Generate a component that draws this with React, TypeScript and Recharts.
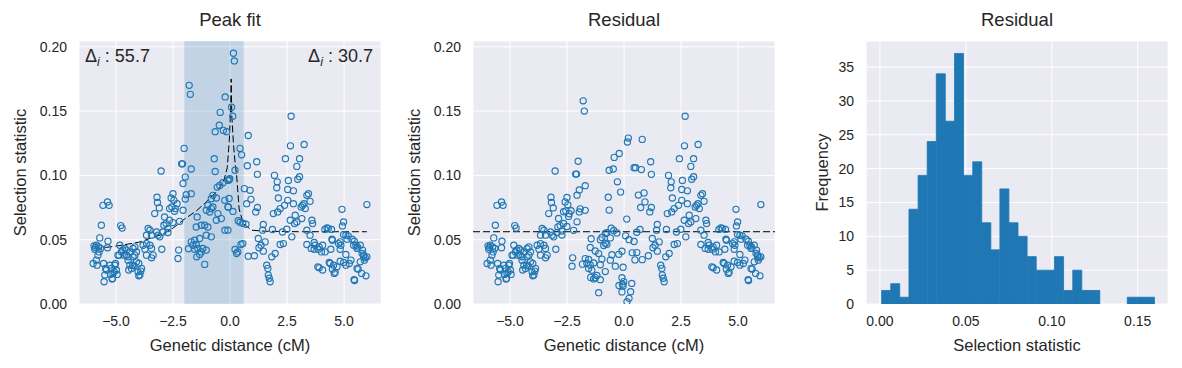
import { Bar, BarChart, CartesianGrid, ReferenceArea, ReferenceLine, Scatter, ScatterChart, XAxis, YAxis } from "recharts";

// points where the peak-fit and residual panels show the same value
const farDistance = [
  -6.0, -5.96, -5.93, -5.9, -5.86, -5.86, -5.83, -5.79, -5.76, -5.74,
  -5.71, -5.67, -5.64, -5.57, -5.54, -5.52, -5.49, -5.45, -5.42, -5.37,
  -5.37, -5.35, -5.3, -5.27, -5.24, -5.2, -5.17, -5.15, -5.13, -5.08,
  -5.05, -5.02, -4.98, -4.95, -4.91, -4.86, -4.83, -4.79, -4.76, -4.73,
  -4.7, -4.64, -4.61, -4.54, -4.54,
  -4.47, -4.47, -4.44, -4.39, -4.39, -4.32, -4.27, -4.25, -4.25, -4.2,
  -4.17, -4.17, -4.1, -4.1, -4.03, -4.0, -4.0, -3.95, -3.91, -3.88,
  -3.81, -3.73, -3.66, -3.66, -3.66, -3.59, -3.51, -3.51, -3.44, -3.44,
  -3.44, -3.37, -3.3, -3.22, -3.2, -3.18, -3.15, -3.1, -3.08, -3.02,
  -2.99,
  1.07, 1.13, 1.17, 1.2, 1.2, 1.24, 1.27, 1.36, 1.43, 1.46,
  1.46, 1.54, 1.61, 1.66, 1.68, 1.72, 1.76, 1.83, 1.86, 1.9,
  1.95, 1.98, 2.05, 2.07, 2.09, 2.12, 2.2, 2.2, 2.3, 2.34,
  2.39, 2.43, 2.49,
  2.53, 2.53, 2.56, 2.64, 2.65, 2.68, 2.71, 2.78, 2.78, 2.83,
  2.86, 2.93, 2.93, 2.97, 3.05, 3.05, 3.12, 3.15, 3.18, 3.24,
  3.25, 3.3, 3.37, 3.37, 3.37, 3.44, 3.51, 3.51, 3.56, 3.59,
  3.62, 3.69, 3.69, 3.73, 3.85, 3.87, 3.91, 3.91, 4.01, 4.06,
  4.06, 4.16, 4.17, 4.25, 4.31, 4.35, 4.39, 4.42, 4.45, 4.47,
  4.49, 4.49,
  4.54, 4.57, 4.61, 4.69, 4.76, 4.83, 4.83, 4.83, 4.86, 4.91,
  4.93, 4.98, 4.98, 4.98, 5.08, 5.08, 5.08, 5.13, 5.18, 5.23,
  5.3, 5.35, 5.42, 5.44, 5.45, 5.46, 5.52, 5.57, 5.57, 5.59,
  5.62, 5.71, 5.71, 5.77, 5.79, 5.81, 5.86, 5.86, 5.89, 5.93,
  5.96, 6.0, 6.0,
];
const farStat = [
  0.0315, 0.0452, 0.0426, 0.044, 0.0457, 0.0341, 0.0302, 0.038, 0.0444, 0.0405,
  0.0514, 0.0432, 0.0612, 0.0767, 0.0315, 0.0173, 0.0225, 0.0277, 0.0264, 0.0793,
  0.0437, 0.0488, 0.0767, 0.0302, 0.023, 0.0277, 0.0194, 0.0199, 0.0238, 0.025,
  0.0302, 0.0315, 0.0264, 0.023, 0.038, 0.038, 0.0457, 0.061, 0.0405, 0.059,
  0.042, 0.038, 0.0432, 0.038, 0.0419,
  0.0367, 0.0341, 0.0264, 0.0302, 0.0405, 0.0277, 0.0302, 0.0432, 0.0367, 0.0297,
  0.0444, 0.038, 0.0405, 0.0328, 0.025, 0.0315, 0.0219, 0.0225, 0.0256, 0.0277,
  0.0457, 0.0426, 0.047, 0.0535, 0.038, 0.0587, 0.0574, 0.0457, 0.0535, 0.0432,
  0.0359, 0.038, 0.0703, 0.056, 0.083, 0.079, 0.0535, 0.0747, 0.0522, 0.1034,
  0.0426,
  0.0375, 0.0716, 0.1106, 0.1008, 0.075, 0.0509, 0.0437, 0.0457, 0.0574, 0.0618,
  0.0411, 0.0483, 0.0302, 0.0277, 0.0225, 0.02, 0.0173, 0.0367, 0.0579, 0.0703,
  0.1, 0.0393, 0.0904, 0.095, 0.0716, 0.0824, 0.0742, 0.0463, 0.056, 0.047,
  0.0767, 0.113, 0.0581,
  0.089, 0.0806, 0.096, 0.0651, 0.123, 0.146, 0.0522, 0.088, 0.078, 0.0625,
  0.069, 0.0638, 0.107, 0.097, 0.113, 0.099, 0.0754, 0.0664, 0.0767, 0.078,
  0.124, 0.0742, 0.0845, 0.0574, 0.0463, 0.0858, 0.0798, 0.0535, 0.0432, 0.0651,
  0.0625, 0.0478, 0.0426, 0.0457, 0.0289, 0.0426, 0.0444, 0.0282, 0.0405, 0.0457,
  0.0264, 0.058, 0.0405, 0.0592, 0.0587, 0.0323, 0.0315, 0.0426, 0.058, 0.0504,
  0.0271, 0.0496,
  0.0302, 0.0238, 0.0246, 0.0289, 0.047, 0.0483, 0.0426, 0.0333, 0.0457, 0.0736,
  0.0607, 0.0638, 0.054, 0.0323, 0.0535, 0.0385, 0.0302, 0.0504, 0.053, 0.0315,
  0.0341, 0.0504, 0.0457, 0.019, 0.0488, 0.0183, 0.0457, 0.0432, 0.0277, 0.0444,
  0.0271, 0.0457, 0.0328, 0.0238, 0.0393, 0.0419, 0.0367, 0.038, 0.0341, 0.0359,
  0.0219, 0.0367, 0.0773,
];

// points near the peak, where the residual differs from the raw statistic
const nearDistance = [
  -2.94, -2.9, -2.87, -2.8, -2.72, -2.72, -2.65, -2.65, -2.58, -2.55,
  -2.5, -2.5, -2.46, -2.43, -2.4, -2.32, -2.28, -2.25, -2.21, -2.12,
  -2.08, -2.06, -2.06, -2.01, -1.96, -1.96,
  -1.92, -1.82, -1.79, -1.74, -1.7, -1.7, -1.7, -1.63, -1.55, -1.55,
  -1.48, -1.48, -1.46, -1.44, -1.41, -1.33, -1.33, -1.26, -1.26, -1.19,
  -1.11, -1.11, -1.04, -1.04, -1.04, -0.97, -0.97, -0.89, -0.82, -0.82,
  -0.82, -0.75, -0.75, -0.69, -0.65, -0.65, -0.6, -0.6, -0.56, -0.53,
  -0.47, -0.45, -0.43, -0.38, -0.31, -0.29, -0.23, -0.22, -0.21, -0.15,
  -0.09, -0.09, -0.09, -0.07, -0.04, -0.04, -0.01, 0.07, 0.12, 0.13,
  0.15, 0.19, 0.22, 0.22, 0.29, 0.34, 0.36, 0.44, 0.44, 0.48,
  0.51, 0.56, 0.56,
  0.63, 0.7, 0.73, 0.76, 0.8, 0.8, 0.88, 0.92,
];
const nearStat = [
  0.056, 0.0612, 0.0677, 0.0625, 0.0587, 0.0556, 0.0651, 0.0742, 0.0824, 0.0754,
  0.0858, 0.0633, 0.0806, 0.0721, 0.0742, 0.078, 0.0354, 0.0419, 0.0643, 0.109,
  0.109, 0.0936, 0.0729, 0.121, 0.0987, 0.0816,
  0.085, 0.043, 0.17, 0.163, 0.0858, 0.105, 0.0483, 0.0457, 0.0496, 0.0426,
  0.0599, 0.0463, 0.0367, 0.0677, 0.0432, 0.0509, 0.0385, 0.0612, 0.0405, 0.0432,
  0.0612, 0.0308, 0.0729, 0.0535, 0.0419, 0.0767, 0.0599, 0.0715, 0.0819, 0.0742,
  0.0522, 0.0845, 0.0754, 0.113, 0.134, 0.103, 0.0824, 0.0651, 0.0909, 0.0703,
  0.139, 0.0922, 0.149, 0.0664, 0.0943, 0.135, 0.0806, 0.0574, 0.161, 0.134,
  0.0961, 0.0754, 0.0574, 0.0754, 0.0966, 0.082, 0.0974, 0.153, 0.146, 0.072,
  0.195, 0.189, 0.104, 0.0424, 0.0393, 0.0405, 0.0648, 0.0636, 0.121, 0.0463,
  0.116, 0.0628, 0.047,
  0.0897, 0.062, 0.078, 0.1075, 0.131, 0.0372, 0.0884, 0.0814,
];
const nearResidual = [
  0.0555, 0.06, 0.0665, 0.061, 0.0567, 0.0536, 0.0626, 0.0717, 0.0794, 0.0724,
  0.0828, 0.0603, 0.0771, 0.0681, 0.0702, 0.0725, 0.0294, 0.0359, 0.0573, 0.101,
  0.101, 0.0846, 0.0639, 0.111, 0.0887, 0.0716,
  0.074, 0.031, 0.158, 0.15, 0.0728, 0.092, 0.0353, 0.0317, 0.0346, 0.0276,
  0.0439, 0.0303, 0.0207, 0.0507, 0.0262, 0.0319, 0.0195, 0.0412, 0.0205, 0.0222,
  0.0392, 0.0088, 0.0499, 0.0305, 0.0189, 0.0517, 0.0349, 0.0455, 0.0549, 0.0472,
  0.0252, 0.0555, 0.0464, 0.083, 0.104, 0.073, 0.0514, 0.0341, 0.0589, 0.0383,
  0.105, 0.0572, 0.114, 0.0294, 0.0553, 0.095, 0.0386, 0.0144, 0.117, 0.087,
  0.041, 0.0204, 0.0094, 0.0154, 0.0286, 0.014, 0.0174, 0.053, 0.066, 0.0018,
  0.126, 0.129, 0.05, 0.0044, 0.0095, 0.016, 0.0398, 0.0486, 0.106, 0.0343,
  0.106, 0.0558, 0.04,
  0.0847, 0.058, 0.075, 0.1045, 0.128, 0.0345, 0.0864, 0.0794,
];

// dashed peak fit
const fitDistance = [-5.9, -5, -4, -3, -2.5, -2, -1.5, -1, -0.5, -0.25, -0.12, -0.03, 0.03, 0.05, 0.08, 0.15, 0.22, 0.29, 0.4, 0.58, 0.95, 1.5, 3, 6];
const fitStat = [0.043, 0.045, 0.048, 0.054, 0.059, 0.066, 0.072, 0.08, 0.089, 0.097, 0.106, 0.127, 0.153, 0.175, 0.146, 0.125, 0.11, 0.1, 0.074, 0.0625, 0.0574, 0.0566, 0.0562, 0.0562];
const baseline = 0.0562;
const leftDelta = "55.7";
const rightDelta = "30.7";
const windowStart = -2.0;
const windowEnd = 0.6;

// residual histogram
const binCenters = [
  0.0036, 0.0089, 0.0142, 0.0195, 0.0248, 0.0301, 0.0354, 0.0407, 0.046, 0.0513,
  0.0566, 0.0619, 0.0671, 0.0724, 0.0777, 0.083, 0.0883, 0.0936, 0.0989, 0.1042,
  0.1095, 0.1148, 0.12, 0.1253, 0.1306, 0.1359, 0.1412, 0.1465, 0.1518, 0.1571,
];
const binCounts = [2, 3, 1, 14, 19, 24, 34, 27, 37, 19, 21, 12, 8, 17, 12, 10, 7, 5, 5, 7, 2, 5, 2, 2, 0, 0, 0, 1, 1, 1];

const distTicks = [-5, -2.5, 0, 2.5, 5];
const statTicks = [0, 0.05, 0.1, 0.15, 0.2];
const histXTicks = [0, 0.05, 0.1, 0.15];
const histYTicks = [0, 5, 10, 15, 20, 25, 30, 35];

const FONT = '"Liberation Sans", Arial, sans-serif';
const INK = "#262626";
const BG = "#EAEAF2";
const BLUE = "#1f77b4";
const W = 400;
const H = 368;
const MARGIN = { top: 41, right: 19, bottom: 0, left: 0 };
const tickStyle = { fill: INK, fontSize: 14, fontFamily: FONT };
const labelFont = { fill: INK, fontSize: 16.5, fontFamily: FONT };

const fmtDist = (v: number) => (v < 0 ? "\u2212" : "") + Math.abs(v).toFixed(1);
const fmt2 = (v: number) => v.toFixed(2);

const Ring = (props: any) => (
  <circle cx={props.cx} cy={props.cy} r={3.1} fill="none" stroke={BLUE} strokeWidth={1.15} />
);
const NoMark = () => <g />;

const peakPoints = [
  ...farDistance.map((x, i) => ({ x, y: farStat[i] })),
  ...nearDistance.map((x, i) => ({ x, y: nearStat[i] })),
];
const residualPoints = [
  ...farDistance.map((x, i) => ({ x, y: farStat[i] })),
  ...nearDistance.map((x, i) => ({ x, y: nearResidual[i] })),
];
const fitPoints = fitDistance.map((x, i) => ({ x, y: fitStat[i] }));
const histData = binCenters.map((x, i) => ({ x, count: binCounts[i] }));

const Title = ({ left, text }: { left: number; text: string }) => (
  <div
    style={{
      position: "absolute",
      left,
      top: 9,
      width: 302,
      textAlign: "center",
      fontSize: 18.5,
      color: INK,
      fontFamily: FONT,
      lineHeight: "normal",
    }}
  >
    {text}
  </div>
);

const Delta = ({ value, style }: { value: string; style: any }) => (
  <div style={{ position: "absolute", top: 46, fontSize: 18, color: INK, fontFamily: FONT, lineHeight: "normal", ...style }}>
    Δ<span style={{ fontStyle: "italic", fontSize: "0.7em", position: "relative", top: "0.3em" }}>i</span> : {value}
  </div>
);

const ScatterPanel = ({ left, points, children }: { left: number; points: any[]; children?: any }) => (
  <div style={{ position: "absolute", left, top: 0 }}>
    <ScatterChart width={W} height={H} margin={MARGIN}>
      <CartesianGrid stroke="#fff" strokeWidth={1} fill={BG} fillOpacity={1} />
      <XAxis
        type="number"
        dataKey="x"
        domain={[-6.62, 6.62]}
        ticks={distTicks}
        tickFormatter={fmtDist}
        allowDataOverflow
        axisLine={false}
        tickLine={false}
        tickSize={0}
        tickMargin={12.5}
        height={64}
        tick={tickStyle}
        label={{ value: "Genetic distance (cM)", position: "insideBottom", offset: 17, ...labelFont }}
      />
      <YAxis
        type="number"
        dataKey="y"
        domain={[0, 0.2045]}
        ticks={statTicks}
        tickFormatter={fmt2}
        allowDataOverflow
        axisLine={false}
        tickLine={false}
        tickSize={0}
        tickMargin={12}
        width={79}
        tick={tickStyle}
        label={{ value: "Selection statistic", angle: -90, position: "insideLeft", offset: 20, style: { textAnchor: "middle" }, ...labelFont }}
      />
      {children}
      <Scatter data={points} shape={Ring} isAnimationActive={false} />
    </ScatterChart>
  </div>
);

export default function App() {
  return (
    <div style={{ position: "absolute", left: 0, top: 0, width: 1182, height: 368, overflow: "hidden", background: "#fff", fontFamily: FONT }}>
      <ScatterPanel left={0} points={peakPoints}>
        <ReferenceArea x1={windowStart} x2={windowEnd} fill={BLUE} fillOpacity={0.2} stroke="none" />
        <Scatter
          data={fitPoints}
          shape={NoMark}
          line={{ stroke: "#000", strokeWidth: 1, strokeDasharray: "7 3" }}
          lineType="joint"
          isAnimationActive={false}
        />
      </ScatterPanel>
      <ScatterPanel left={394} points={residualPoints}>
        <ReferenceLine y={baseline} stroke="#000" strokeWidth={1} strokeDasharray="7 3" />
      </ScatterPanel>
      <div style={{ position: "absolute", left: 787, top: 0 }}>
        <BarChart width={W} height={H} margin={MARGIN} data={histData} barCategoryGap={0} barGap={0}>
          <CartesianGrid stroke="#fff" strokeWidth={1} fill={BG} fillOpacity={1} />
          <XAxis
            type="number"
            dataKey="x"
            domain={[-0.0081, 0.1676]}
            ticks={histXTicks}
            tickFormatter={fmt2}
            allowDataOverflow
            axisLine={false}
            tickLine={false}
            tickSize={0}
            tickMargin={12.5}
            height={64}
            tick={tickStyle}
            label={{ value: "Selection statistic", position: "insideBottom", offset: 17, ...labelFont }}
          />
          <YAxis
            type="number"
            domain={[0, 38.85]}
            ticks={histYTicks}
            allowDataOverflow
            axisLine={false}
            tickLine={false}
            tickSize={0}
            tickMargin={12}
            width={79}
            tick={tickStyle}
            label={{ value: "Frequency", angle: -90, position: "insideLeft", offset: 35, style: { textAnchor: "middle" }, ...labelFont }}
          />
          <Bar dataKey="count" fill={BLUE} stroke={BLUE} strokeWidth={0.8} isAnimationActive={false} />
        </BarChart>
      </div>
      <Title left={79} text="Peak fit" />
      <Title left={473} text="Residual" />
      <Title left={866} text="Residual" />
      <Delta value={leftDelta} style={{ left: 85 }} />
      <Delta value={rightDelta} style={{ right: 1182 - 373, textAlign: "right" }} />
    </div>
  );
}
